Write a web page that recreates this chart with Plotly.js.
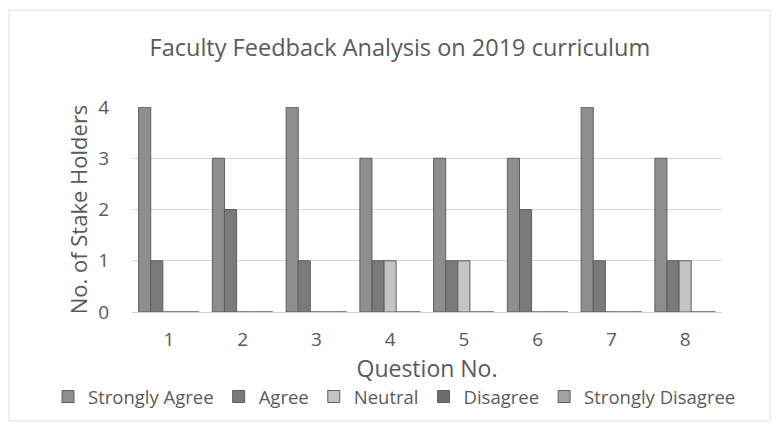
<!DOCTYPE html>
<html>
<head>
<meta charset="utf-8">
<script src="https://cdn.plot.ly/plotly-3.0.1.min.js"></script>
<style>html,body{margin:0;padding:0;background:#fff;}#chart{width:775px;height:429px;}</style>
</head>
<body>
<div id="chart"></div>
<script>
var questions = ['1', '2', '3', '4', '5', '6', '7', '8'];
var seriesNames = ['Strongly Agree', 'Agree', 'Neutral', 'Disagree', 'Strongly Disagree'];
var stronglyAgree = [4, 3, 4, 3, 3, 3, 4, 3];
var agree = [1, 2, 1, 1, 1, 2, 1, 1];
var neutral = [0, 0, 0, 1, 1, 0, 0, 1];
var disagree = [0, 0, 0, 0, 0, 0, 0, 0];
var stronglyDisagree = [0, 0, 0, 0, 0, 0, 0, 0];
var yTicks = [0, 1, 2, 3, 4];

var seriesValues = [stronglyAgree, agree, neutral, disagree, stronglyDisagree];
var fills = ['#8e8e8e', '#7a7a7a', '#c4c4c4', '#6c6c6c', '#a3a3a3'];
var FONT = '"Open Sans", Lato, sans-serif';
var TXT = '#5a5a5a';

// plot area in pixels, used to convert a few paper positions
var PL = 132, PR = 722, PT = 107, PB = 312;
function px2x(p) { return (p - PL) / (PR - PL); }
function px2y(p) { return (PB - p) / (PB - PT); }

var traces = seriesNames.map(function (name, i) {
  return {
    type: 'bar',
    name: name,
    x: questions,
    y: seriesValues[i],
    marker: { color: fills[i], line: { color: '#5e5e5e', width: 1 } },
    hoverinfo: 'x+y+name'
  };
});

var layout = {
  width: 775,
  height: 429,
  margin: { l: PL, r: 775 - PR, t: PT, b: 429 - PB },
  paper_bgcolor: '#ffffff',
  plot_bgcolor: '#ffffff',
  font: { family: FONT, color: TXT, size: 19 },
  title: {
    text: 'Faculty Feedback Analysis on 2019 curriculum',
    font: { family: FONT, size: 23.5, color: TXT },
    x: 0.516, xref: 'container', xanchor: 'center',
    y: 1 - 48 / 429, yref: 'container', yanchor: 'middle'
  },
  barmode: 'group',
  bargap: 0.18,
  bargroupgap: 0,
  xaxis: {
    type: 'category',
    automargin: true,
    showgrid: false,
    zeroline: false,
    showline: false,
    ticks: '',
    ticklabelstandoff: 14,
    tickfont: { family: FONT, size: 19, color: TXT },
    title: { text: 'Question No.', font: { family: FONT, size: 23, color: TXT }, standoff: 5 }
  },
  yaxis: {
    range: [0, 4],
    tickvals: yTicks,
    automargin: true,
    showgrid: true,
    gridcolor: '#d9d9d9',
    gridwidth: 1,
    zeroline: true,
    zerolinecolor: '#d0d0d0',
    zerolinewidth: 1,
    showline: false,
    ticks: '',
    ticklabelstandoff: 22,
    tickfont: { family: FONT, size: 19, color: TXT },
    title: { text: 'No. of Stake Holders', font: { family: FONT, size: 22, color: TXT }, standoff: 4 }
  },
  shapes: [{
    type: 'rect', xref: 'paper', yref: 'paper', layer: 'below',
    x0: px2x(9), x1: px2x(770), y0: px2y(421), y1: px2y(10),
    line: { color: '#e0e0e0', width: 1 }, fillcolor: 'rgba(0,0,0,0)'
  }],
  legend: {
    orientation: 'h',
    x: px2x(48), xanchor: 'left', xref: 'paper',
    y: px2y(397), yanchor: 'middle', yref: 'paper',
    font: { family: FONT, size: 18.5, color: TXT },
    itemwidth: 30,
    traceorder: 'normal',
    bgcolor: 'rgba(0,0,0,0)'
  },
  showlegend: true
};

Plotly.newPlot('chart', traces, layout, { displayModeBar: false, staticPlot: true });
</script>
</body>
</html>
